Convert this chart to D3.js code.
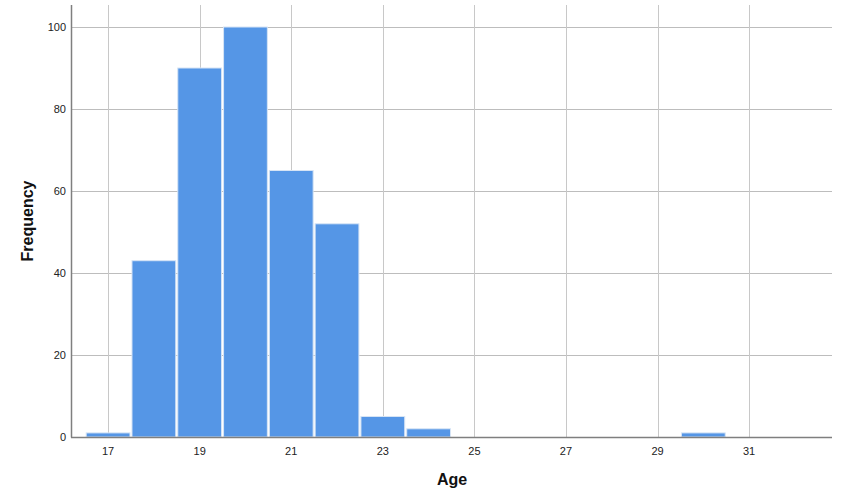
<!DOCTYPE html>
<html><head><meta charset="utf-8">
<script src="https://cdn.jsdelivr.net/npm/d3@7"></script>
<style>body{margin:0;background:#fff}svg{display:block}</style>
</head><body>
<svg id="c" width="851" height="501"></svg>
<script>
const ages = [17, 18, 19, 20, 21, 22, 23, 24, 30];
const frequencies = [1, 43, 90, 100, 65, 52, 5, 2, 1];
const xTicks = [17, 19, 21, 23, 25, 27, 29, 31];
const yTicks = [0, 20, 40, 60, 80, 100];

const svg = d3.select("#c");
const L = 71, R = 832, T = 5, B = 437;
const x = d3.scaleLinear().domain([16.19, 32.81]).range([L, R]);
const y = d3.scaleLinear().domain([0, 100]).range([B, 27]);

const g = svg.append("g");
// grid
g.selectAll(".hg").data(yTicks).join("line")
  .attr("x1", L).attr("x2", R)
  .attr("y1", d => Math.round(y(d)) + 0.5).attr("y2", d => Math.round(y(d)) + 0.5)
  .attr("stroke", "#bdbdbd").attr("stroke-width", 1);
g.selectAll(".vg").data(xTicks).join("line")
  .attr("y1", T).attr("y2", B)
  .attr("x1", d => Math.round(x(d)) + 0.5).attr("x2", d => Math.round(x(d)) + 0.5)
  .attr("stroke", "#c8c8c8").attr("stroke-width", 1);

// bars
const half = 0.5;
g.selectAll(".bar").data(ages.map((a, i) => ({a, v: frequencies[i]}))).join("rect")
  .attr("x", d => x(d.a - half) + 1)
  .attr("width", d => x(d.a + half) - x(d.a - half) - 2)
  .attr("y", d => y(d.v))
  .attr("height", d => B - y(d.v))
  .attr("fill", "#5596e6")
  .attr("stroke", "#d6e4f5").attr("stroke-width", 1);

// axes lines
g.append("line").attr("x1", L + 0.5).attr("x2", L + 0.5).attr("y1", T).attr("y2", B + 0.5)
  .attr("stroke", "#7f7f7f").attr("stroke-width", 1.5);
g.append("line").attr("x1", L).attr("x2", R).attr("y1", B + 0.5).attr("y2", B + 0.5)
  .attr("stroke", "#7f7f7f").attr("stroke-width", 1.5);

// tick labels
g.selectAll(".yl").data(yTicks).join("text")
  .attr("x", 66).attr("y", d => y(d)).attr("dy", "0.35em")
  .attr("text-anchor", "end")
  .attr("font-family", "Liberation Sans, Arial, sans-serif").attr("font-size", 11)
  .attr("fill", "#222").text(d => d);
g.selectAll(".xl").data(xTicks).join("text")
  .attr("x", d => x(d)).attr("y", 451).attr("dy", "0.35em")
  .attr("text-anchor", "middle")
  .attr("font-family", "Liberation Sans, Arial, sans-serif").attr("font-size", 11)
  .attr("fill", "#222").text(d => d);

// titles
svg.append("text").attr("x", 452).attr("y", 479).attr("dy", "0.35em")
  .attr("text-anchor", "middle").attr("font-family", "Liberation Sans, Arial, sans-serif")
  .attr("font-weight", "bold").attr("font-size", 16).attr("fill", "#111").text("Age");
svg.append("text").attr("transform", "translate(27,221) rotate(-90)").attr("dy", "0.35em")
  .attr("text-anchor", "middle").attr("font-family", "Liberation Sans, Arial, sans-serif")
  .attr("font-weight", "bold").attr("font-size", 16).attr("fill", "#111").text("Frequency");
</script>
</body></html>
